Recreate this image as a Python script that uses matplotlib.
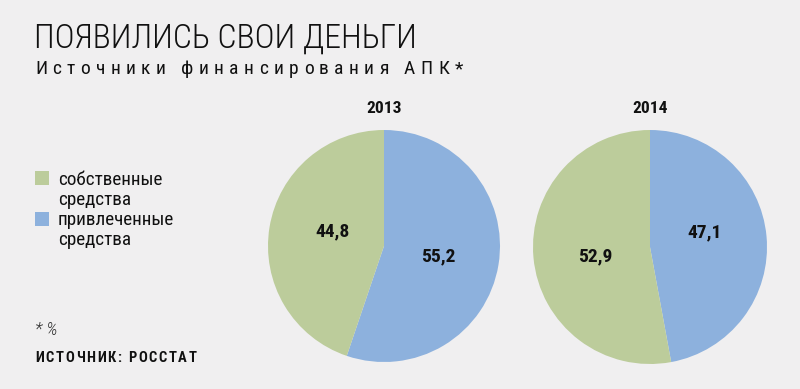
import matplotlib
matplotlib.use("Agg")
import matplotlib.pyplot as plt

years = ["2013", "2014"]
legend_labels = ["собственные\nсредства", "привлеченные\nсредства"]
own = [44.8, 52.9]
borrowed = [55.2, 47.1]

title = "ПОЯВИЛИСЬ СВОИ ДЕНЬГИ"
subtitle = "Источники финансирования АПК*"
note = "* %"
source = "ИСТОЧНИК: РОССТАТ"

GREEN = "#bccc9b"
BLUE = "#8db1dd"
BG = "#f0eff0"
INK = "#111111"
FONT = ["Roboto Condensed", "DejaVu Sans"]

W, H = 800, 389
fig = plt.figure(figsize=(W / 100, H / 100), dpi=100, facecolor=BG)
renderer = fig.canvas.get_renderer()


def fx(x):
    return x / W


def fy(y):
    return 1 - y / H


def spaced(x, y, s, spacing, **kw):
    """Draw a string character by character with extra letter spacing (px)."""
    cx = x
    for ch in s:
        t = fig.text(fx(cx), fy(y), ch, **kw)
        if ch == " ":
            w = t.get_fontsize() * 0.3
        else:
            w = t.get_window_extent(renderer).width
        cx += w + spacing


fig.text(fx(34), fy(48), title, fontsize=24.3, family=FONT, color=INK,
         va="baseline", ha="left", fontweight=300)
spaced(35, 74, subtitle, 5.4, fontsize=14, family=FONT, color=INK,
       va="baseline", ha="left", fontweight=400)

# legend
colors = [GREEN, BLUE]
sq_tops = [171, 212]
base_y = [[185, 205], [225, 245]]
for col, lab, ytop, bys in zip(colors, legend_labels, sq_tops, base_y):
    fig.patches.append(plt.Rectangle((fx(35), fy(ytop + 14)), 14 / W, 14 / H,
                                     transform=fig.transFigure, color=col, lw=0))
    for line, by in zip(lab.split("\n"), bys):
        fig.text(fx(58), fy(by), line, fontsize=13.8, family=FONT, color=INK,
                 va="baseline", ha="left")

fig.text(fx(35), fy(335), note, fontsize=13, family=FONT, color="#333333",
         va="baseline", ha="left", style="italic", fontweight=300)
spaced(35, 362, source, 1.7, fontsize=10.5, family=FONT, color=INK,
       va="baseline", ha="left", fontweight="bold")

centers = [(384, 246, 116), (650, 247, 117)]
label_pos = [[(438, 256), (332, 231)], [(705, 232), (595, 256)]]
for i, (cx, cy, r) in enumerate(centers):
    ax = fig.add_axes([fx(cx - r), fy(cy + r), 2 * r / W, 2 * r / H])
    vals = [borrowed[i], own[i]]
    ax.pie(vals, colors=[BLUE, GREEN], startangle=90, counterclock=False,
           radius=1, wedgeprops=dict(linewidth=0))
    ax.set_xlim(-1, 1)
    ax.set_ylim(-1, 1)
    ax.set_aspect("equal")
    ax.axis("off")
    for v, (lx, ly) in zip(vals, label_pos[i]):
        ax.text((lx - cx) / r, (cy - ly) / r, f"{v:.1f}".replace(".", ","),
                ha="center", va="center", fontsize=14, fontweight="bold",
                family=FONT, color=INK)
    fig.text(fx(cx), fy(113), years[i], ha="center", va="baseline", fontsize=12.5,
             fontweight="bold", family=FONT, color=INK)

fig.savefig("out.png", dpi=100, facecolor=BG)
